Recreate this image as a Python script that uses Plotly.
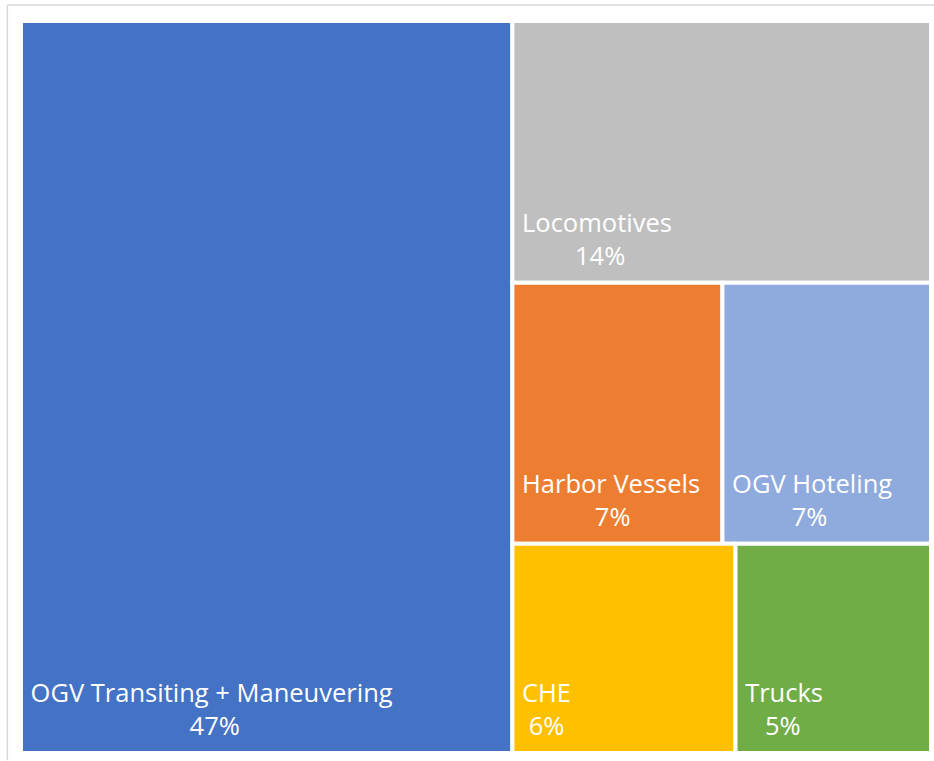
import plotly.graph_objects as go

labels = ["OGV Transiting + Maneuvering", "Locomotives", "Harbor Vessels", "OGV Hoteling", "CHE", "Trucks"]
# shares (%) as read from the tile areas; labelled values are these rounded
values = [46.6, 14.2, 7.1, 7.05, 6.05, 5.3]
colors = ["#4472C4", "#BFBFBF", "#ED7D31", "#8FAADC", "#FFC000", "#70AD47"]

# approximate Open Sans advance widths (em/1000) for centring the second line
W = {' ': 260, '%': 823, 'O': 779, 'G': 725, 'V': 589, 'T': 556, 'r': 408, 'a': 556,
     'n': 613, 's': 479, 'i': 258, 't': 357, 'g': 546, '+': 572, 'M': 907, 'e': 561,
     'u': 613, 'v': 500, 'L': 517, 'c': 479, 'o': 600, 'm': 930, 'H': 733, 'b': 613,
     'l': 258, 'C': 632, 'E': 556, 'k': 518, 'h': 613, 'd': 613}


def width(s):
    return sum(W.get(ch, 572) for ch in s)


NB = "\u00a0"
templates = []
for lab, val in zip(labels, values):
    pct = f"{val:.0f}%"
    diff = (width(lab) - width(pct)) / 2
    n = max(0, round(diff / 260))
    templates.append(NB + "%{label}<br>" + NB + NB * n + "%{value:.0f}%"
                     + "<span style='font-size:52px'>" + NB + "</span>")

fig = go.Figure(go.Treemap(
    labels=labels,
    parents=[""] * len(labels),
    values=values,
    sort=True,
    marker=dict(colors=colors, line=dict(color="white", width=4),
                pad=dict(t=0, l=0, r=0, b=0)),
    texttemplate=templates,
    textposition="bottom left",
    textfont=dict(family="Open Sans", size=25.5, color="white"),
    hoverinfo="label+value",
    pathbar=dict(visible=False),
    tiling=dict(packing="squarify", pad=0),
))

fig.update_layout(
    width=934, height=761,
    margin=dict(l=21, r=3, t=21, b=8),
    paper_bgcolor="white",
    showlegend=False,
)
fig.add_shape(type="line", xref="paper", yref="paper", x0=-0.015, x1=1.01, y0=1.022, y1=1.022,
              line=dict(color="#D9D9D9", width=1.5))
fig.add_shape(type="line", xref="paper", yref="paper", x0=-0.015, x1=-0.015, y0=-0.01, y1=1.022,
              line=dict(color="#D9D9D9", width=1.5))

fig.write_html("out.html")
